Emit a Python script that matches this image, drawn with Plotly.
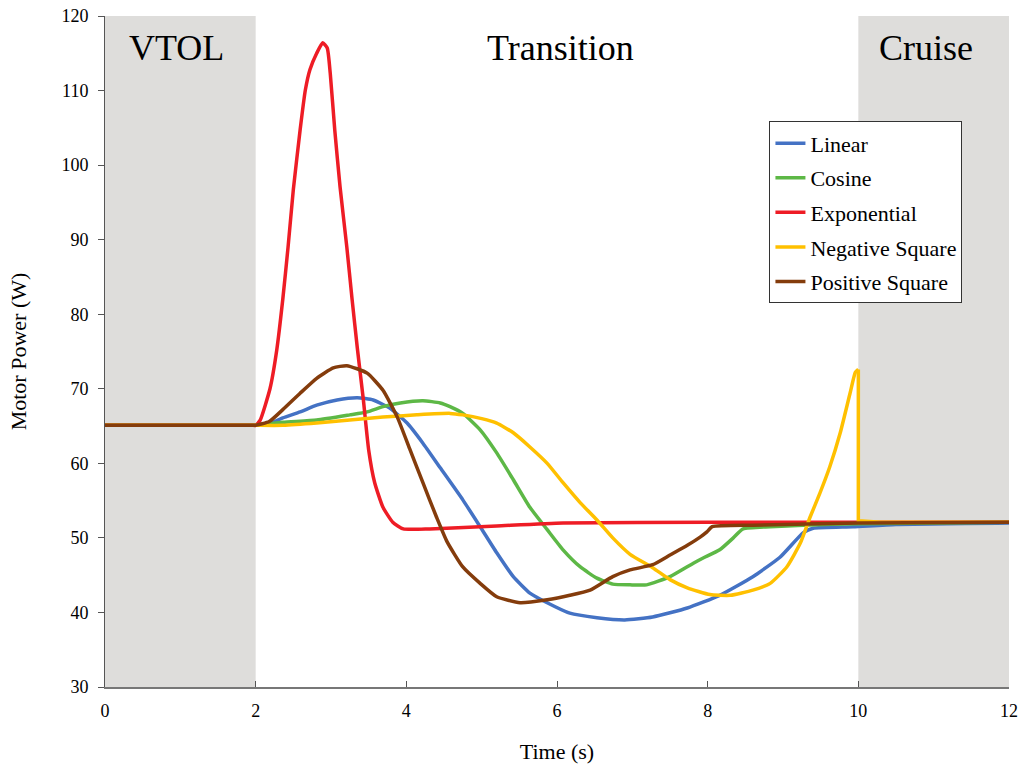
import plotly.graph_objects as go

# ---- data ----
lin_x = [0, 1.95, 2.0, 2.18, 2.36, 2.59, 2.81, 3.08, 3.35, 3.56, 3.78, 4.01, 4.22, 4.45, 4.75, 4.98, 5.2, 5.42,
         5.64, 5.87, 6.17, 6.53, 6.9, 7.27, 7.73, 8.16, 8.6, 8.96, 9.27, 9.4, 9.93, 10.5, 12]
lin_y = [65.1, 65.1, 65.1, 65.3, 66.1, 66.9, 67.8, 68.5, 68.8, 68.5, 67.4, 65.4, 62.7, 59.4, 55.1, 51.5, 48.0, 44.8,
         42.6, 41.3, 39.9, 39.3, 39.0, 39.4, 40.6, 42.3, 44.8, 47.4, 50.7, 51.3, 51.5, 51.8, 52.0]

cos_x = [0, 1.95, 2.0, 2.36, 2.81, 3.25, 3.48, 3.69, 3.92, 4.22, 4.45, 4.58, 4.75, 4.98, 5.2, 5.42, 5.64, 5.87, 6.08,
         6.31, 6.53, 6.74, 6.97, 7.19, 7.5, 7.81, 7.94, 8.16, 8.34, 8.47, 8.83, 9.27, 10.0, 12]
cos_y = [65.1, 65.1, 65.1, 65.5, 65.8, 66.5, 66.9, 67.6, 68.1, 68.4, 68.1, 67.6, 66.7, 64.5, 61.4, 57.8, 54.1, 51.1, 48.4,
         46.1, 44.6, 43.8, 43.7, 43.7, 44.8, 46.6, 47.3, 48.4, 50.0, 51.2, 51.5, 51.7, 51.9, 52.1]

exp_x = [0, 1.95, 2.0, 2.06, 2.19, 2.28, 2.36, 2.43, 2.5, 2.59, 2.66, 2.72, 2.81, 2.89, 2.95, 2.99, 3.05, 3.12, 3.21,
         3.28, 3.35, 3.43, 3.5, 3.58, 3.69, 3.82, 3.96, 4.31, 5.2, 6.08, 8.0, 12]
exp_y = [65.1, 65.1, 65.1, 65.8, 70.0, 75.2, 82.0, 89.0, 96.7, 104.7, 110.1, 112.8, 115.0, 116.4, 115.7, 112.3, 104.7,
         97.1, 89.0, 82.0, 75.4, 68.5, 61.8, 57.4, 54.1, 52.1, 51.2, 51.2, 51.6, 52.0, 52.1, 52.1]

# Negative Square: smooth part up to the spike, then the drop at t = 10 s
neg_x = [0, 1.95, 2.0, 2.36, 2.81, 3.25, 3.69, 4.14, 4.58, 4.75, 5.0, 5.2, 5.42, 5.64, 5.87, 6.08, 6.31, 6.53, 6.74,
         6.97, 7.27, 7.5, 7.73, 8.03, 8.3, 8.6, 8.83, 9.05, 9.23, 9.36, 9.49, 9.62, 9.76, 9.89, 9.96, 10.0]
neg_y = [65.1, 65.1, 65.1, 65.1, 65.4, 65.8, 66.2, 66.5, 66.7, 66.5, 66.0, 65.4, 64.1, 62.2, 60.0, 57.4, 54.7, 52.4,
         50.0, 47.8, 46.0, 44.4, 43.3, 42.4, 42.3, 43.0, 43.9, 46.1, 49.3, 52.8, 56.0, 59.5, 64.1, 69.4, 72.2, 72.6]
neg_tail_x = [10.0, 10.0, 10.3, 12]
neg_tail_y = [72.6, 52.3, 52.1, 52.1]

pos_x = [0, 1.95, 2.0, 2.18, 2.36, 2.59, 2.81, 3.03, 3.21, 3.48, 3.69, 3.88, 4.05, 4.22, 4.4, 4.54, 4.75, 4.98, 5.2,
         5.51, 5.87, 6.17, 6.44, 6.74, 6.97, 7.27, 7.5, 7.73, 7.9, 7.99, 8.06, 8.6, 10.0, 12]
pos_y = [65.1, 65.1, 65.1, 65.6, 67.2, 69.4, 71.4, 72.8, 73.1, 72.1, 69.8, 66.2, 61.8, 57.4, 52.8, 49.5, 46.1, 43.9,
         42.1, 41.3, 41.7, 42.3, 43.0, 44.8, 45.7, 46.4, 47.7, 49.0, 50.1, 50.8, 51.5, 51.7, 52.0, 52.1]

series = [
    ("Linear", lin_x, lin_y, "#4472C4"),
    ("Cosine", cos_x, cos_y, "#5DB846"),
    ("Exponential", exp_x, exp_y, "#EE1C25"),
    ("Negative Square", neg_x, neg_y, "#FFC000"),
    ("Positive Square", pos_x, pos_y, "#843C0C"),
]

phase_labels = ["VTOL", "Transition", "Cruise"]
phase_x = [0.95, 6.05, 10.9]
shaded = [(0, 2), (10, 12)]

x_ticks = [0, 2, 4, 6, 8, 10, 12]
y_ticks = [30, 40, 50, 60, 70, 80, 90, 100, 110, 120]

FONT = "Liberation Serif"

fig = go.Figure()
for i, (name, xs, ys, col) in enumerate(series):
    fig.add_trace(go.Scatter(x=xs, y=ys, name=name, mode="lines", legendgroup=f"g{i}",
                             line=dict(color=col, width=3.5, shape="spline", smoothing=0.5)))
    if name == "Negative Square":
        fig.add_trace(go.Scatter(x=neg_tail_x, y=neg_tail_y, name=name, mode="lines",
                                 legendgroup=f"g{i}", showlegend=False,
                                 line=dict(color=col, width=3.5, shape="linear")))

for x0, x1 in shaded:
    fig.add_shape(type="rect", xref="x", yref="y", x0=x0, x1=x1, y0=30, y1=120,
                  fillcolor="#DEDDDB", line=dict(width=0), layer="below")

for lab, px in zip(phase_labels, phase_x):
    fig.add_annotation(x=px, y=115.7, xref="x", yref="y", text=lab, showarrow=False,
                       font=dict(family=FONT, size=36, color="black"))

fig.update_layout(
    width=1021, height=767,
    margin=dict(l=105, r=12, t=16, b=80, autoexpand=False),
    paper_bgcolor="white", plot_bgcolor="white",
    font=dict(family=FONT, size=18, color="black"),
    showlegend=True,
    legend=dict(x=0.735, y=0.843, xanchor="left", yanchor="top",
                bgcolor="white", bordercolor="#333333", borderwidth=1,
                font=dict(family=FONT, size=22), tracegroupgap=3,
                itemwidth=30),
    xaxis=dict(range=[0, 12], tickvals=x_ticks, ticks="inside", ticklen=6, automargin=False,
               showgrid=False, zeroline=False, showline=True, linecolor="#777777",
               linewidth=2, tickcolor="#555555", ticklabelstandoff=6,
               title=dict(text="Time (s)", font=dict(family=FONT, size=22), standoff=24)),
    yaxis=dict(range=[30, 120], tickvals=y_ticks, ticks="outside", ticklen=6, automargin=False,
               showgrid=False, zeroline=False, showline=True, linecolor="#555555",
               linewidth=1, tickcolor="#555555", ticklabelstandoff=6,
               title=dict(text="Motor Power (W)", font=dict(family=FONT, size=22), standoff=28)),
)

fig.write_html("out.html")
